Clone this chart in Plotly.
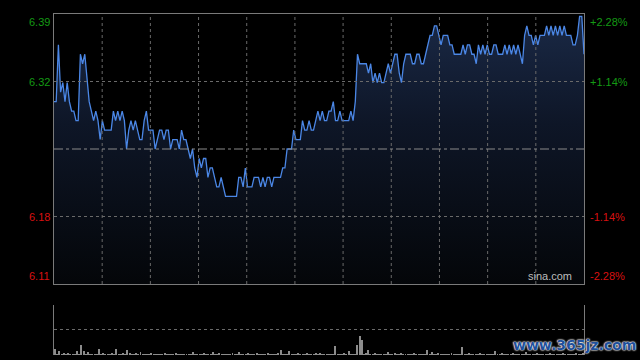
import plotly.graph_objects as go

prev_close = 6.25
pct_limit = 0.0228

prices = [
    6.30, 6.30, 6.36, 6.31, 6.32, 6.30, 6.32, 6.30, 6.29, 6.29,
    6.28, 6.28, 6.35, 6.34, 6.35, 6.32, 6.30, 6.29, 6.28, 6.29,
    6.28, 6.26, 6.28, 6.27, 6.27, 6.27, 6.27, 6.29, 6.28, 6.29,
    6.28, 6.29, 6.28, 6.25, 6.27, 6.28, 6.27, 6.28, 6.27, 6.26,
    6.26, 6.28, 6.29, 6.27, 6.27, 6.27, 6.25, 6.26, 6.27, 6.27,
    6.26, 6.27, 6.27, 6.25, 6.26, 6.26, 6.26, 6.25, 6.27, 6.26,
    6.26, 6.25, 6.24, 6.25, 6.23, 6.22, 6.24, 6.23, 6.24, 6.24,
    6.22, 6.23, 6.23, 6.22, 6.21, 6.21, 6.22, 6.21, 6.20, 6.20,
    6.20, 6.20, 6.20, 6.20, 6.22, 6.22, 6.21, 6.23, 6.21, 6.21,
    6.21, 6.22, 6.22, 6.22, 6.21, 6.22, 6.21, 6.22, 6.22, 6.21,
    6.22, 6.22, 6.22, 6.22, 6.23, 6.23, 6.25, 6.25, 6.25, 6.27,
    6.26, 6.26, 6.26, 6.28, 6.27, 6.27, 6.28, 6.27, 6.27, 6.28,
    6.29, 6.28, 6.29, 6.28, 6.28, 6.29, 6.29, 6.30, 6.28, 6.28,
    6.29, 6.28, 6.28, 6.28, 6.28, 6.29, 6.28, 6.30, 6.35, 6.34,
    6.34, 6.34, 6.34, 6.33, 6.34, 6.32, 6.33, 6.32, 6.33, 6.32,
    6.32, 6.33, 6.34, 6.33, 6.34, 6.35, 6.35, 6.33, 6.32, 6.34,
    6.35, 6.35, 6.35, 6.34, 6.34, 6.35, 6.35, 6.34, 6.34, 6.35,
    6.36, 6.37, 6.37, 6.38, 6.38, 6.37, 6.36, 6.37, 6.37, 6.37,
    6.36, 6.36, 6.35, 6.35, 6.35, 6.35, 6.36, 6.35, 6.36, 6.36,
    6.35, 6.35, 6.34, 6.36, 6.35, 6.36, 6.35, 6.36, 6.35, 6.35,
    6.36, 6.36, 6.35, 6.35, 6.35, 6.36, 6.35, 6.36, 6.35, 6.36,
    6.35, 6.36, 6.35, 6.34, 6.37, 6.38, 6.37, 6.37, 6.36, 6.37,
    6.36, 6.37, 6.37, 6.37, 6.38, 6.37, 6.38, 6.37, 6.38, 6.37,
    6.38, 6.37, 6.38, 6.37, 6.37, 6.37, 6.36, 6.36, 6.37, 6.39,
    6.39, 6.35,
]

volumes = [
    6, 1, 4, 1, 2, 1, 2, 1, 1, 1,
    4, 1, 10, 4, 1, 3, 1, 1, 1, 1,
    6, 1, 2, 1, 1, 1, 2, 1, 6, 1,
    1, 2, 1, 5, 2, 1, 1, 2, 1, 3,
    1, 1, 1, 1, 2, 1, 1, 1, 1, 1,
    2, 1, 1, 1, 1, 2, 1, 1, 1, 1,
    1, 1, 1, 3, 1, 1, 1, 1, 2, 1,
    1, 1, 3, 1, 1, 2, 1, 1, 1, 1,
    1, 2, 1, 1, 3, 1, 1, 1, 2, 1,
    1, 1, 2, 1, 1, 1, 1, 2, 1, 1,
    1, 1, 2, 5, 1, 1, 1, 4, 1, 1,
    1, 2, 1, 1, 1, 2, 1, 1, 1, 2,
    1, 2, 1, 1, 1, 1, 1, 1, 9, 1,
    1, 1, 2, 1, 4, 1, 1, 1, 10, 19,
    15, 1, 2, 5, 1, 1, 2, 1, 1, 1,
    1, 1, 3, 1, 1, 2, 1, 1, 2, 1,
    1, 1, 1, 1, 2, 1, 1, 1, 1, 1,
    5, 1, 3, 1, 1, 2, 1, 1, 1, 1,
    1, 2, 1, 1, 1, 1, 8, 1, 1, 2,
    1, 1, 1, 1, 2, 1, 1, 1, 1, 1,
    1, 4, 1, 1, 2, 1, 1, 1, 1, 2,
    1, 1, 1, 1, 1, 3, 1, 1, 1, 1,
    2, 1, 1, 1, 1, 1, 2, 1, 1, 1,
    1, 1, 2, 1, 1, 1, 1, 1, 2, 1,
    1, 2,
]

left_labels = ["6.39", "6.32", "6.18", "6.11"]
right_labels = ["+2.28%", "+1.14%", "-1.14%", "-2.28%"]
label_pcts = [0.0228, 0.0114, -0.0114, -0.0228]

minutes = list(range(len(prices)))
n = len(prices)
y_top = prev_close * (1 + pct_limit)
y_bot = prev_close * (1 - pct_limit)

GREEN = "#149a14"
RED = "#d81010"
GRID = "#6a6a6a"
BORDER = "#7a7a7a"

fig = go.Figure()

fig.add_trace(go.Scatter(
    x=minutes, y=prices, mode="lines",
    line=dict(color="#4b87e6", width=1.3),
    fill="tozeroy",
    fillgradient=dict(type="vertical", start=y_bot, stop=max(prices),
                      colorscale=[[0, "#040609"], [0.6, "#0e1627"], [1, "#1a2946"]]),
    xaxis="x", yaxis="y", hoverinfo="skip", showlegend=False,
))

fig.add_trace(go.Bar(
    x=minutes, y=volumes, width=0.45,
    marker=dict(color="#8c8c8c", line=dict(width=0)),
    xaxis="x2", yaxis="y2", hoverinfo="skip", showlegend=False,
))

grid_x = [(n - 1) * k / 11 for k in range(1, 11)]
grid_y = [prev_close * (1 + 0.0114), prev_close * (1 - 0.0114)]

shapes = []
for gx in grid_x:
    shapes.append(dict(type="line", xref="x", yref="y domain", x0=gx, x1=gx,
                       y0=0, y1=1, line=dict(color=GRID, width=1, dash="dot"),
                       layer="above"))
for gy in grid_y:
    shapes.append(dict(type="line", xref="x domain", yref="y", x0=0, x1=1,
                       y0=gy, y1=gy, line=dict(color=GRID, width=1, dash="dot"),
                       layer="above"))
shapes.append(dict(type="line", xref="x domain", yref="y", x0=0, x1=1,
                   y0=prev_close, y1=prev_close,
                   line=dict(color="#8a8a8a", width=1, dash="dashdot"),
                   layer="above"))

fig.update_layout(
    width=640, height=360,
    paper_bgcolor="#000000", plot_bgcolor="#000000",
    margin=dict(l=54, r=56, t=14, b=5),
    bargap=0,
    xaxis=dict(domain=[0, 1], range=[0, n - 1],
               showticklabels=False, ticks="", showgrid=False,
               showline=True, linecolor=BORDER, linewidth=1, mirror=True,
               zeroline=False, anchor="y"),
    yaxis=dict(domain=[0.2082, 1], range=[y_bot, y_top],
               showticklabels=False, ticks="", showgrid=False,
               showline=True, linecolor=BORDER, linewidth=1, mirror=True,
               zeroline=False, anchor="x"),
    xaxis2=dict(domain=[0, 1], range=[-0.5, n - 0.5], showticklabels=False,
                ticks="", showgrid=False, showline=False, zeroline=False,
                anchor="y2"),
    yaxis2=dict(domain=[0, 0.1475], range=[0, 50], tickvals=[25, 50],
                showticklabels=False, ticks="", showgrid=True,
                gridcolor=GRID, griddash="dot", gridwidth=1,
                showline=True, linecolor=BORDER, linewidth=1, mirror=True,
                zeroline=False, anchor="x2"),
    shapes=shapes,
)

annotations = []
for lab, rlab, p in zip(left_labels, right_labels, label_pcts):
    color = GREEN if p > 0 else RED
    yv = prev_close * (1 + p)
    if abs(p) >= pct_limit:
        yanchor = "top" if p > 0 else "bottom"
    else:
        yanchor = "middle"
    annotations.append(dict(text=lab, xref="paper", yref="y", x=0, y=yv,
                            xanchor="right", yanchor=yanchor, xshift=-2,
                            showarrow=False,
                            font=dict(family="Liberation Sans, Arial", size=11, color=color)))
    annotations.append(dict(text=rlab, xref="paper", yref="y", x=1, y=yv,
                            xanchor="left", yanchor=yanchor, xshift=4,
                            showarrow=False,
                            font=dict(family="Liberation Sans, Arial", size=11, color=color)))

annotations.append(dict(text="sina.com", xref="paper", yref="y", x=1, y=y_bot,
                        xanchor="right", yanchor="bottom", xshift=-10, yshift=0,
                        showarrow=False,
                        font=dict(family="Liberation Sans, Arial", size=11, color="#bdbdbd")))

annotations.append(dict(text="<b>www.365jz.com</b>", xref="paper", yref="paper",
                        x=1, y=0, xanchor="center", yanchor="middle",
                        xshift=-10, yshift=10, borderpad=0,
                        showarrow=False,
                        font=dict(family="DejaVu Sans", size=14, color="#21509a",
                                  shadow="0 0 2px #ffffff, 0 0 2px #ffffff, 0 0 1px #ffffff")))

fig.update_layout(annotations=annotations)

fig.write_html("out.html", config={"displayModeBar": False},
               post_script="document.body.style.margin='0';")
